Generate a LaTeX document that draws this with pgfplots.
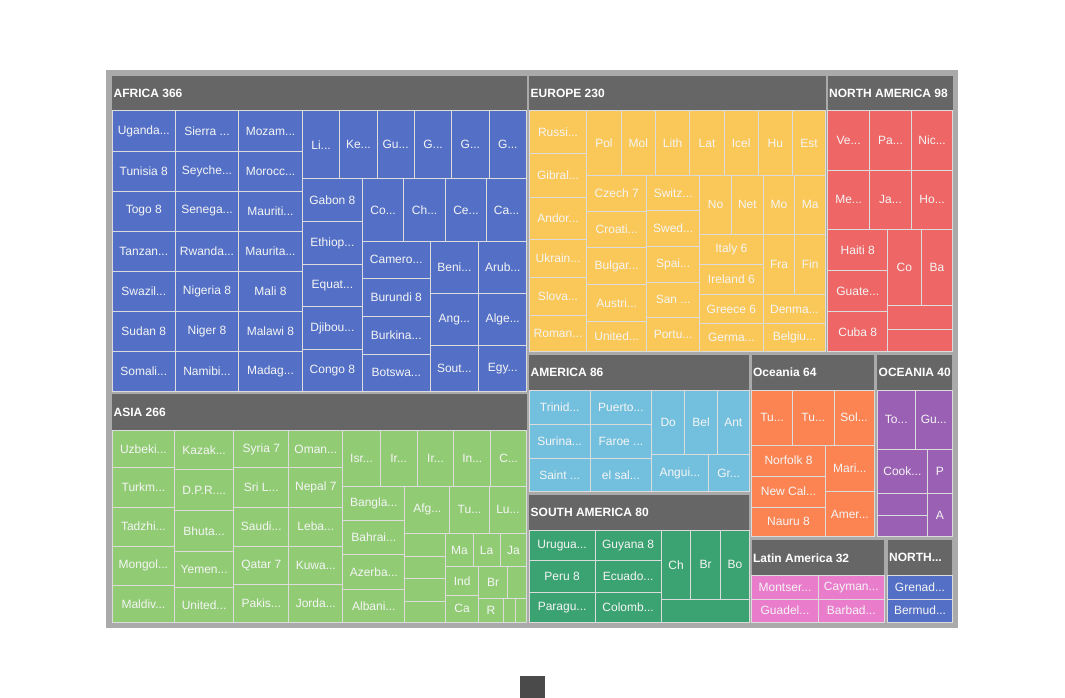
\documentclass[border=0pt]{standalone}
\usepackage{fontspec}
\setmainfont{Liberation Sans}
\usepackage{pgfplots}
\usepackage{pgfplotstable}
\pgfplotsset{compat=1.18}

\definecolor{frame}{HTML}{AAAAAA}
\definecolor{hdr}{HTML}{666666}
\definecolor{gap}{HTML}{DCDCDC}
\definecolor{btn}{HTML}{4A4A4A}
\definecolor{cafrica}{HTML}{5470C6}
\definecolor{casia}{HTML}{91CC75}
\definecolor{ceurope}{HTML}{FAC858}
\definecolor{cnam}{HTML}{EE6666}
\definecolor{camerica}{HTML}{73C0DE}
\definecolor{csam}{HTML}{3BA272}
\definecolor{coce}{HTML}{FC8452}
\definecolor{cOCE}{HTML}{9A60B4}
\definecolor{clat}{HTML}{EA7CCC}

% tiles in pixel units: x0,y0 top left, x1,y1 bottom right
\pgfplotstableread[col sep=comma]{
x0,y0,x1,y1,label
112.3,76,526.7,111,AFRICA 366
529.3,76,825.7,111,EUROPE 230
827.7,76,952.7,111,NORTH AMERICA 98
112.3,394,526.7,430,ASIA 266
529.3,355,749.3,390,AMERICA 86
529.3,495,749.3,530,SOUTH AMERICA 80
751.7,355,874.3,390,Oceania 64
877.3,355,952.3,390,OCEANIA 40
751.7,540,884.3,575.7,Latin America 32
887.7,540,952.3,575.7,NORTH...
}\headers

\pgfplotstableread[col sep=comma]{
x0,y0,x1,y1,label
112.3,111,175.3,151,Uganda...
112.3,151,175.3,191,Tunisia 8
112.3,191,175.3,231,Togo 8
112.3,231,175.3,271,Tanzan...
112.3,271,175.3,311,Swazil...
112.3,311,175.3,351,Sudan 8
112.3,351,175.3,391,Somali...
175.3,111,238.7,151,Sierra ...
175.3,151,238.7,191,Seyche...
175.3,191,238.7,231,Senega...
175.3,231,238.7,271,Rwanda...
175.3,271,238.7,311,Nigeria 8
175.3,311,238.7,351,Niger 8
175.3,351,238.7,391,Namibi...
238.7,111,302.3,151,Mozam...
238.7,151,302.3,191,Morocc...
238.7,191,302.3,231,Mauriti...
238.7,231,302.3,271,Maurita...
238.7,271,302.3,311,Mali 8
238.7,311,302.3,351,Malawi 8
238.7,351,302.3,391,Madag...
302.3,111,339.7,178.7,Li...
339.7,111,377,178.7,Ke...
377,111,414.3,178.7,Gu...
414.3,111,451.7,178.7,G...
451.7,111,489,178.7,G...
489,111,526.7,178.7,G...
302.3,178.7,362.5,221.5,Gabon 8
302.3,221.5,362.5,264.5,Ethiop...
302.3,264.5,362.5,306.5,Equat...
302.3,306.5,362.5,349.5,Djibou...
302.3,349.5,362.5,391,Congo 8
362.5,178.7,403.8,241.2,Co...
403.8,178.7,445.5,241.2,Ch...
445.5,178.7,486.5,241.2,Ce...
486.5,178.7,526.7,241.2,Ca...
362.5,241.2,430,278.3,Camero...
362.5,278.3,430,316.3,Burundi 8
362.5,316.3,430,354,Burkina...
362.5,354,430,391,Botswa...
430,241.2,478.8,293.5,Beni...
430,293.5,478.8,345.8,Ang...
430,345.8,478.8,391,Sout...
478.8,241.2,526.7,293.5,Arub...
478.8,293.5,526.7,345.8,Alge...
478.8,345.8,526.7,391,Egy...
}\africa

\pgfplotstableread[col sep=comma]{
x0,y0,x1,y1,label
529.3,111,586.7,153.8,Russi...
529.3,153.8,586.7,197.2,Gibral...
529.3,197.2,586.7,239.8,Andor...
529.3,239.8,586.7,277.3,Ukrain...
529.3,277.3,586.7,315.5,Slova...
529.3,315.5,586.7,351.7,Roman...
586.7,111,621.2,175,Pol
621.2,111,655.5,175,Mol
655.5,111,689.8,175,Lith
689.8,111,724.2,175,Lat
724.2,111,758.3,175,Icel
758.3,111,792.5,175,Hu
792.5,111,825.7,175,Est
586.7,175,646.7,211.3,Czech 7
586.7,211.3,646.7,247.8,Croati...
586.7,247.8,646.7,284.8,Bulgar...
586.7,284.8,646.7,321.5,Austri...
586.7,321.5,646.7,351.7,United...
646.7,175,699.5,210.5,Switz...
646.7,210.5,699.5,246.5,Swed...
646.7,246.5,699.5,282.2,Spai...
646.7,282.2,699.5,317.2,San ...
646.7,317.2,699.5,351.7,Portu...
699.5,175,731.5,234.5,No
731.5,175,763.2,234.5,Net
763.2,175,794.8,234.5,Mo
794.8,175,825.7,234.5,Ma
699.5,234.5,763.2,264.5,Italy 6
699.5,264.5,763.2,294.2,Ireland 6
763.2,234.5,794.8,294.2,Fra
794.8,234.5,825.7,294.2,Fin
699.5,294.2,763.2,323.8,Greece 6
699.5,323.8,763.2,351.7,Germa...
763.2,294.2,825.7,323.8,Denma...
763.2,323.8,825.7,351.7,Belgiu...
}\europe

\pgfplotstableread[col sep=comma]{
x0,y0,x1,y1,label
827.7,111,869.5,170,Ve...
869.5,111,911.5,170,Pa...
911.5,111,952.7,170,Nic...
827.7,170,869.5,229.7,Me...
869.5,170,911.5,229.7,Ja...
911.5,170,952.7,229.7,Ho...
827.7,229.7,887.8,270.8,Haiti 8
827.7,270.8,887.8,311.8,Guate...
827.7,311.8,887.8,351.7,Cuba 8
887.8,229.7,921,305.2,Co
921,229.7,952.7,305.2,Ba
887.8,305.2,952.7,329.2,{}
887.8,329.2,952.7,351.7,{}
}\northam

\pgfplotstableread[col sep=comma]{
x0,y0,x1,y1,label
112.3,430,174.5,467.8,Uzbeki...
112.3,467.8,174.5,507.2,Turkm...
112.3,507.2,174.5,546.2,Tadzhi...
112.3,546.2,174.5,585.5,Mongol...
112.3,585.5,174.5,622.3,Maldiv...
174.5,430,233.8,469.7,Kazak...
174.5,469.7,233.8,510.8,D.P.R....
174.5,510.8,233.8,551.7,Bhuta...
174.5,551.7,233.8,587.2,Yemen...
174.5,587.2,233.8,622.3,United...
233.8,430,288.8,467.8,Syria 7
233.8,467.8,288.8,507.2,Sri L...
233.8,507.2,288.8,546.2,Saudi...
233.8,546.2,288.8,584.8,Qatar 7
233.8,584.8,288.8,622.3,Pakis...
288.8,430,342.8,467.8,Oman...
288.8,467.8,342.8,507.2,Nepal 7
288.8,507.2,342.8,546.2,Leba...
288.8,546.2,342.8,584.8,Kuwa...
288.8,584.8,342.8,622.3,Jorda...
342.8,430,380.2,486.2,Isr...
380.2,430,417.2,486.2,Ir...
417.2,430,453.8,486.2,Ir...
453.8,430,490.8,486.2,In...
490.8,430,526.7,486.2,C...
342.8,486.2,404.8,520.5,Bangla...
342.8,520.5,404.8,554.8,Bahrai...
342.8,554.8,404.8,589.2,Azerba...
342.8,589.2,404.8,622.3,Albani...
404.8,486.2,449.8,533.5,Afg...
449.8,486.2,489.2,533.5,Tu...
489.2,486.2,526.7,533.5,Lu...
404.8,533.5,445.8,556.2,{}
404.8,556.2,445.8,578.5,{}
404.8,578.5,445.8,601.2,{}
404.8,601.2,445.8,622.3,{}
445.8,533.5,473,566.8,Ma
473,533.5,500.2,566.8,La
500.2,533.5,526.7,566.8,Ja
445.8,566.8,478.5,595.2,Ind
445.8,595.2,478.5,622.3,Ca
478.5,566.8,507.5,598.2,Br
507.5,566.8,526.7,598.2,{}
478.5,598.2,503.5,622.3,R
503.5,598.2,515.2,622.3,{}
515.2,598.2,526.7,622.3,{}
}\asia

\pgfplotstableread[col sep=comma]{
x0,y0,x1,y1,label
529.3,390,590,424,Trinid...
529.3,424,590,458,Surina...
529.3,458,590,491.7,Saint ...
590,390,651.8,424,Puerto...
590,424,651.8,458,Faroe ...
590,458,651.8,491.7,el sal...
651.8,390,684.7,454.7,Do
684.7,390,717.3,454.7,Bel
717.3,390,749.3,454.7,Ant
651.8,454.7,708,491.7,Angui...
708,454.7,749.3,491.7,Gr...
}\america

\pgfplotstableread[col sep=comma]{
x0,y0,x1,y1,label
529.3,530,595,560.7,Urugua...
529.3,560.7,595,592,Peru 8
529.3,592,595,622.3,Paragu...
595,530,661.3,560.7,Guyana 8
595,560.7,661.3,592,Ecuado...
595,592,661.3,622.3,Colomb...
661.3,530,690.7,599.7,Ch
690.7,530,720.7,599.7,Br
720.7,530,749.3,599.7,Bo
661.3,599.7,749.3,622.3,{}
}\southam

\pgfplotstableread[col sep=comma]{
x0,y0,x1,y1,label
751.7,390,792.5,445,Tu...
792.5,390,834,445,Tu...
834,390,874.3,445,Sol...
751.7,445,825.3,476,Norfolk 8
751.7,476,825.3,507,New Cal...
751.7,507,825.3,536.7,Nauru 8
825.3,445,874.3,491.7,Mari...
825.3,491.7,874.3,536.7,Amer...
}\oceania

\pgfplotstableread[col sep=comma]{
x0,y0,x1,y1,label
877.3,390,915.3,449,To...
915.3,390,952.3,449,Gu...
877.3,449,927.5,493.3,Cook...
927.5,449,952.3,493.3,P
877.3,493.3,927.5,515.8,{}
877.3,515.8,927.5,536.7,{}
927.5,493.3,952.3,536.7,A
}\OCEANIA

\pgfplotstableread[col sep=comma]{
x0,y0,x1,y1,label
751.7,575.7,818.3,599,Montser...
751.7,599,818.3,622.3,Guadel...
818.3,575.7,884.3,599,Cayman...
818.3,599,884.3,622.3,Barbad...
}\latam

\pgfplotstableread[col sep=comma]{
x0,y0,x1,y1,label
887.7,575.7,952.3,599,Grenad...
887.7,599,952.3,622.3,Bermud...
}\north

% one filled rectangle per table row
\newcommand\drawrects[3]{%
  \pgfplotstablegetrowsof{#1}%
  \pgfmathtruncatemacro\lastrow{\pgfplotsretval-1}%
  \pgfplotsforeachungrouped \rowi in {0,...,\lastrow}{%
    \pgfplotstablegetelem{\rowi}{x0}\of#1\let\xa\pgfplotsretval
    \pgfplotstablegetelem{\rowi}{y0}\of#1\let\ya\pgfplotsretval
    \pgfplotstablegetelem{\rowi}{x1}\of#1\let\xb\pgfplotsretval
    \pgfplotstablegetelem{\rowi}{y1}\of#1\let\yb\pgfplotsretval
    \edef\cmd{\noexpand\addplot[#3, fill=#2] coordinates {(\xa,\ya) (\xb,\ya) (\xb,\yb) (\xa,\yb)} -- cycle;}%
    \cmd
  }%
}
\newcommand\tiles[2]{%
  \drawrects{#1}{#2}{draw=gap, line width=1pt}%
  \addplot[draw=none, point meta=explicit symbolic, nodes near coords,
    nodes near coords align=center,
    every node near coord/.append style={font=\fontsize{12}{14}\selectfont, text=white!96!black, inner sep=0pt}]
    table[x expr=(\thisrow{x0}+\thisrow{x1})/2, y expr=(\thisrow{y0}+\thisrow{y1})/2, meta=label] {#1};
}

\begin{document}
\begin{tikzpicture}
\begin{axis}[
  width=1065pt, height=698pt, scale only axis,
  xmin=0, xmax=1065, ymin=0, ymax=698, y dir=reverse,
  hide axis, clip=false,
]
\addplot[draw=none, fill=white] coordinates {(0,0) (1065,0) (1065,698) (0,698)} -- cycle;
\addplot[draw=none, fill=frame] coordinates {(106,69.7) (958.3,69.7) (958.3,628) (106,628)} -- cycle;
\addplot[draw=none, fill=btn] coordinates {(520,676) (545,676) (545,698) (520,698)} -- cycle;

\drawrects{\headers}{hdr}{draw=none}
\addplot[draw=none, point meta=explicit symbolic, nodes near coords,
  nodes near coords align=west,
  every node near coord/.append style={font=\fontsize{12}{14}\selectfont\bfseries, text=white, inner sep=0pt}]
  table[x expr=\thisrow{x0}+1.2, y expr=(\thisrow{y0}+\thisrow{y1})/2, meta=label] {\headers};

\tiles{\africa}{cafrica}
\tiles{\europe}{ceurope}
\tiles{\northam}{cnam}
\tiles{\asia}{casia}
\tiles{\america}{camerica}
\tiles{\southam}{csam}
\tiles{\oceania}{coce}
\tiles{\OCEANIA}{cOCE}
\tiles{\latam}{clat}
\tiles{\north}{cafrica}
\end{axis}
\end{tikzpicture}
\end{document}
